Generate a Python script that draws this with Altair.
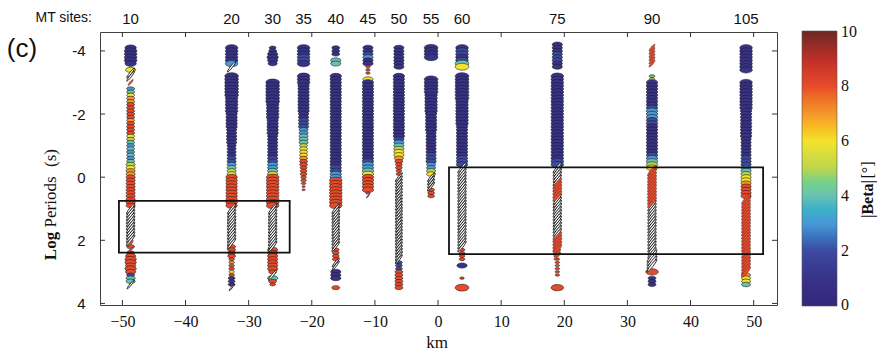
import math
import altair as alt
import pandas as pd

# ---------------------------------------------------------------------------
# Phase-tensor pseudosection along the MT profile
# ---------------------------------------------------------------------------

# MT sites: label and position along the profile (km)
site_names = ["10", "20", "30", "35", "40", "45", "50", "55", "60", "75", "90", "105"]
site_km = [-48.7, -32.7, -26.2, -21.3, -16.2, -11.1, -6.2, -1.1, 3.8, 18.9, 33.9, 48.8]

# Samples per site as runs on a 0.1 log-period grid: (first log period, codes, widths)
#   code  : digit = |beta| in degrees, 'h' = degenerate ellipse (open), 'r' = degenerate, beta ~8
#   width : ellipse major axis (hex digit, px)
site10 = [(-4.1, "111111", "abbbba"), (-3.4, "6", "9"), (-3.3, "hh", "b"), (-3.0, "r", "7"),
          (-2.8, "3467", "7"), (-2.4, "78888878888", "7"), (-1.3, "654", "7"),
          (-1.0, "343434", "7"), (-0.4, "5677", "8"), (0.0, "8888888888", "8"),
          (1.0, "hhhhhhhhhhh", "c"), (2.1, "r8r8", "7"), (2.5, "888888", "9aa9a9"),
          (3.1, "2", "7"), (3.2, "44", "8"), (3.4, "h", "a")]
site20 = [(-4.1, "11111", "b"), (-3.6, "3", "b"), (-3.5, "h", "c"),
          (-3.2, "1111111111" "1111111111" "11", "cccccccbbbbbaaaaa99999"),
          (-1.0, "111122", "8"), (-0.4, "3456", "8"), (0.0, "8888888888", "a"),
          (1.0, "hhhhhhhhhhhh", "c"), (2.2, "8888", "7"), (2.6, "878868", "5"),
          (3.2, "111", "6"), (3.5, "h", "7")]
site30 = [(-4.1, "111111", "679a98"),
          (-3.0, "1111111111" "1111111111" "1", "cccccccbbbbbaaaaa9999"),
          (-0.9, "111223", "9"), (-0.3, "346", "9"), (0.0, "8888888888", "b"),
          (1.0, "hhhhhhhhhhhhh", "c"), (2.3, "8888888", "9"), (3.0, "8h48", "7c97"),
          (3.4, "8", "5")]
site35 = [(-4.1, "111221", "b"), (-3.2, "11111111111111", "bbbaaaaaaaaa99"),
          (-1.8, "222", "9"), (-1.5, "33", "8"), (-1.3, "444", "8"), (-1.0, "5666", "7"),
          (-0.6, "7888888", "7776665"), (0.1, "8888", "5433")]
site40 = [(-4.1, "111", "7"), (-3.7, "44", "9"),
          (-3.2, "1111111111" "1111111111" "111111111", "a"),
          (-0.3, "2233", "a"), (0.1, "888888888", "b"), (1.0, "hhhhhhhhhhhhh", "b"),
          (2.3, "8888", "6"), (2.7, "hh", "a"), (3.0, "111", "9"), (3.5, "8", "7")]
site45 = [(-4.1, "112311", "9"), (-3.5, "888", "4"), (-3.1, "6", "9"),
          (-3.0, "1111111111" "1111111111" "11111", "a"),
          (-0.5, "233", "a"), (-0.2, "46", "a"), (0.0, "88888", "a"), (0.5, "8h", "4")]
site50 = [(-4.1, "1111111", "9"), (-3.2, "1111111111" "1111111111", "a"),
          (-1.2, "23", "9"), (-1.0, "4566", "9"), (-0.6, "788888", "876655"),
          (0.0, "hhhhhhhhhh" "hhhhhhhhhh" "hhhhhhh", "a"), (2.7, "222", "6"),
          (3.0, "888888", "7")]
site55 = [(-4.1, "1111", "c"),
          (-3.1, "1111111111" "1111111111" "1111", "cccccbbbbbbaaaaaa9999999"),
          (-0.7, "222", "9"), (-0.4, "3356", "8"), (0.0, "hhhh", "a"), (0.4, "888", "6")]
site60 = [(-4.1, "12212", "b"), (-3.6, "46", "c"),
          (-3.2, "1111111111" "1111111111" "111111" "222", "ccccccccbbbbbbbbaaaaaaaaaaaaa"),
          (-0.3, "hhhhhhhhhh" "hhhhhhhhhh" "hhhhhh", "c"), (2.3, "8888", "5"),
          (2.8, "1", "9"), (3.2, "8", "4"), (3.5, "8", "c")]
site75 = [(-4.2, "11122211", "9"),
          (-3.2, "1111111111" "1111111111" "1111111" "22", "b"),
          (-0.3, "hhhhhrrrrr" "hhhhhhhhhh" "hhrrrrr", "c"), (2.4, "rr", "9"),
          (2.6, "888888", "4"), (3.5, "8", "b")]
site90 = [(-4.1, "rrrrrr", "8"), (-3.2, "46", "5"),
          (-3.0, "11111111" "233322" "111111111" "2" "3456", "a"),
          (-0.2, "rrrrrrrrrrr", "c"), (0.9, "hhhhhhhhhhhhhhhh", "c"), (2.5, "hhhh", "e"),
          (3.0, "8", "b"), (3.2, "111", "7")]
site105 = [(-4.1, "11111111", "b"),
           (-3.0, "1111111111" "1111111111" "1111" "222", "bbbbbbbbbaaaaaaaaa999999999"),
           (-0.3, "34", "9"), (-0.1, "5667", "9"), (0.3, "8888", "9"),
           (0.7, "rrrrrrrrrr" "rrrrrrrrrr" "rrrr", "c"), (3.1, "766", "8"), (3.4, "4", "8")]
site_samples = [site10, site20, site30, site35, site40, site45, site50, site55,
                site60, site75, site90, site105]

# Colour bar, axis ticks and the two outlined windows
beta_stops = [0, 1, 2, 3, 4, 5, 6, 7, 8, 9, 10]
beta_colors = ["#33277a", "#38328a", "#3c4aa0", "#4799d6", "#68c1b4", "#bdd54e",
               "#f4e22b", "#f3962b", "#e84a2a", "#bd2e29", "#6b2824"]
# colour-bar labels; the end values sit just inside the bar so they centre on its ends
beta_ticks = [0.03, 2, 4, 6, 8, 9.97]
km_ticks = [-50, -40, -30, -20, -10, 0, 10, 20, 30, 40, 50]
logt_ticks = [-4, -2, 0, 2, 4]
box_x1 = [-50.55, 1.74]
box_x2 = [-23.5, 51.5]
box_y1 = [0.75, -0.31]
box_y2 = [2.39, 2.44]

# ---------------------------------------------------------------------------
W, H = 677, 273
SERIF = "Liberation Serif"
SANS = "Liberation Sans"


def ellipse_path(ry, theta_deg):
    """Bezier outline of an ellipse with rx=1, rotated by theta (screen degrees)."""
    k = 0.5523
    pts = [(-1, 0), (-1, -k * ry), (-k, -ry), (0, -ry), (k, -ry), (1, -k * ry), (1, 0),
           (1, k * ry), (k, ry), (0, ry), (-k, ry), (-1, k * ry), (-1, 0)]
    c, s = math.cos(math.radians(theta_deg)), math.sin(math.radians(theta_deg))
    p = [(x * c - y * s, x * s + y * c) for x, y in pts]
    f = lambda q: f"{q[0]:.4f} {q[1]:.4f}"
    out = "M " + f(p[0])
    for i in range(1, 13, 3):
        out += " C " + f(p[i]) + " " + f(p[i + 1]) + " " + f(p[i + 2])
    return out + " Z"


ELLIPSE = ellipse_path(0.5, 0)
THIN = ellipse_path(0.15, -52)
THIN_FILLED = ellipse_path(0.24, -50)

rows = []
for name, km, segs in zip(site_names, site_km, site_samples):
    for start, codes, widths in segs:
        for j, c in enumerate(codes):
            w = int(widths[min(j, len(widths) - 1)], 16)
            rows.append({
                "site": name,
                "km": km,
                "logT": round(start + 0.1 * j, 2),
                "code": c,
                "beta": 8.0 if c in "hr" else float(c),
                "w": w,
            })
pt = pd.DataFrame(rows)

xscale = alt.Scale(domain=[-53.55, 53.7], nice=False, zero=False)
yscale = alt.Scale(domain=[-4.6, 4.05], nice=False, zero=False, reverse=True)
xaxis = alt.Axis(values=km_ticks, tickSize=0, labelPadding=8, domain=False, grid=False,
                 labelFont=SERIF, labelFontSize=16, labelColor="#111", title=None)
yaxis = alt.Axis(values=logt_ticks, tickSize=0, labelPadding=15, domain=False, grid=False,
                 labelFont=SANS, labelFontSize=15, labelColor="#111", title=None,
                 labelExpr="datum.value < 0 ? '-' + abs(datum.value) : '' + datum.value")

fill = alt.condition(
    "datum.code == 'h'",
    alt.value("white"),
    alt.Fill("beta:Q",
             scale=alt.Scale(domain=beta_stops, range=beta_colors),
             title=None,
             legend=alt.Legend(orient="none", legendX=702, legendY=-1,
                               direction="vertical", gradientLength=275,
                               gradientThickness=35, values=beta_ticks, format=".0f",
                               labelFont=SERIF, labelFontSize=16, labelColor="#111",
                               labelOffset=4, labelBaseline="middle", padding=0,
                               labelOverlap=False,
                               gradientStrokeColor="#555", gradientStrokeWidth=0.6)),
)
size = alt.Size("w:Q", scale=alt.Scale(type="pow", exponent=2, domain=[0, 12],
                                       range=[0, 185]), legend=None)
base = alt.Chart(pt).encode(
    x=alt.X("km:Q", scale=xscale, axis=xaxis),
    y=alt.Y("logT:Q", scale=yscale, axis=yaxis),
    size=size,
    fill=fill,
)
ellipses = base.transform_filter("datum.code != 'h' && datum.code != 'r'").mark_point(
    shape=ELLIPSE, filled=True, opacity=1, stroke="#1c1c1c", strokeWidth=0.6)
open_thin = base.transform_filter("datum.code == 'h'").mark_point(
    shape=THIN, filled=True, opacity=1, stroke="#111", strokeWidth=0.9)
red_thin = base.transform_filter("datum.code == 'r'").mark_point(
    shape=THIN_FILLED, filled=True, opacity=1, stroke="#3a2a2a", strokeWidth=0.45)

boxes = alt.Chart(pd.DataFrame({"x1": box_x1, "x2": box_x2, "y1": box_y1, "y2": box_y2})).mark_rect(
    filled=False, stroke="#111", strokeWidth=1.8
).encode(
    x=alt.X("x1:Q", scale=xscale, axis=xaxis), x2="x2:Q",
    y=alt.Y("y1:Q", scale=yscale, axis=yaxis), y2="y2:Q",
)

kmdf = pd.DataFrame({"km": km_ticks})
ltdf = pd.DataFrame({"logT": logt_ticks})
tick_style = dict(color="#333", strokeWidth=1)
ticks_bottom = alt.Chart(kmdf).mark_rule(**tick_style).encode(
    x=alt.X("km:Q", scale=xscale, axis=xaxis), y=alt.value(H), y2=alt.value(H - 5))
ticks_top = alt.Chart(kmdf).mark_rule(**tick_style).encode(
    x=alt.X("km:Q", scale=xscale, axis=xaxis), y=alt.value(0), y2=alt.value(5))
ticks_left = alt.Chart(ltdf).mark_rule(**tick_style).encode(
    y=alt.Y("logT:Q", scale=yscale, axis=yaxis), x=alt.value(0), x2=alt.value(5))
ticks_right = alt.Chart(ltdf).mark_rule(**tick_style).encode(
    y=alt.Y("logT:Q", scale=yscale, axis=yaxis), x=alt.value(W), x2=alt.value(W - 5))

site_labels = alt.Chart(pd.DataFrame({"km": site_km, "name": site_names})).mark_text(
    font=SANS, fontSize=15, color="#111", baseline="middle"
).encode(x=alt.X("km:Q", scale=xscale, axis=xaxis), y=alt.value(-13), text="name:N")


def label(text, x, y, align="center", **kw):
    return alt.Chart(pd.DataFrame({"t": [text]})).mark_text(
        baseline="middle", align=align, color="#111", **kw
    ).encode(x=alt.value(x), y=alt.value(y), text="t:N")


texts = [
    label("MT sites:", -8, -14, align="right", font=SANS, fontSize=14),
    label("(c)", -78, 17, font=SANS, fontSize=26),
    label("(s)", -49, 126, font=SERIF, fontSize=17, angle=270),
    label("Periods", -49, 170, font=SERIF, fontSize=17, angle=270),
    label("Log", -49, 214, font=SERIF, fontSize=17, fontWeight="bold", angle=270),
    label("km", 337, 311, font=SERIF, fontSize=17),
    label("|Beta|", 768, 167, font=SERIF, fontSize=16, fontWeight="bold", angle=270),
    label("[°]", 768, 138, font=SERIF, fontSize=16, angle=270),
]

chart = alt.layer(
    ellipses, open_thin, red_thin, boxes, ticks_bottom, ticks_top, ticks_left, ticks_right,
    site_labels, *texts
).properties(
    width=W, height=H,
    autosize=alt.AutoSizeParams(type="none"),
    padding={"left": 100, "top": 32, "right": 102, "bottom": 46},
).configure_view(
    stroke="#404040", strokeWidth=1
).configure_axisX(
    labelFont=SERIF, labelFontSize=16
).configure_axisY(
    labelFont=SANS, labelFontSize=15
)

chart.save("out.html", embed_options={"renderer": "svg", "actions": False})
